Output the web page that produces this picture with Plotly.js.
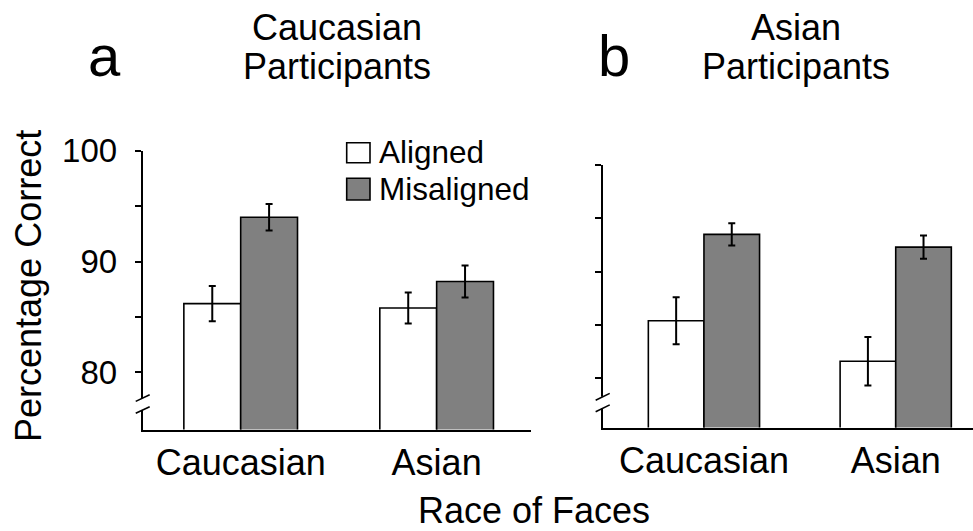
<!DOCTYPE html>
<html>
<head>
<meta charset="utf-8">
<script src="https://cdn.plot.ly/plotly-3.0.1.min.js"></script>
<style>html,body{margin:0;padding:0;background:#fff;}#chart{width:973px;height:531px;}</style>
</head>
<body>
<div id="chart"></div>
<script>
// ---- data ----
const categories = ['Caucasian', 'Asian'];
const seriesNames = ['Aligned', 'Misaligned'];
// Panel a: Caucasian participants
const caucAligned = [86.2, 85.8];
const caucAlignedErr = [1.6, 1.4];
const caucMisaligned = [94.0, 88.2];
const caucMisalignedErr = [1.2, 1.45];
// Panel b: Asian participants
const asianAligned = [85.4, 81.6];
const asianAlignedErr = [2.2, 2.27];
const asianMisaligned = [93.5, 92.3];
const asianMisalignedErr = [1.05, 1.1];
// ticks
const yTickVals = [80, 85, 90, 95, 100];
const yTickTextA = ['80', '', '90', '', '100'];
const yTickTextB = ['', '', '', '', ''];
const panelLetters = ['a', 'b'];
const panelTitlesLine1 = ['Caucasian', 'Asian'];
const panelTitlesLine2 = ['Participants', 'Participants'];
const yTitle = 'Percentage Correct';
const xTitle = 'Race of Faces';

// ---- styles ----
const FONT = 'Liberation Sans, Arial, Helvetica, sans-serif';
const fills = ['#ffffff', '#808080'];
const W = 973, H = 531;
const px = v => v / W;
const py = v => 1 - v / H;

function barTrace(name, y, err, fill, xa, ya) {
  return {
    type: 'bar', name: name, x: categories, y: y,
    xaxis: xa, yaxis: ya, showlegend: false,
    marker: { color: fill, line: { color: '#000', width: 1.6 } },
    error_y: { type: 'data', array: err, visible: true, color: '#000', thickness: 2, width: 3.5 },
    hoverinfo: 'skip'
  };
}

const data = [
  barTrace(seriesNames[0], caucAligned, caucAlignedErr, fills[0], 'x', 'y'),
  barTrace(seriesNames[1], caucMisaligned, caucMisalignedErr, fills[1], 'x', 'y'),
  barTrace(seriesNames[0], asianAligned, asianAlignedErr, fills[0], 'x2', 'y2'),
  barTrace(seriesNames[1], asianMisaligned, asianMisalignedErr, fills[1], 'x2', 'y2')
];

const xCommon = {
  type: 'category', showline: true, linecolor: '#000', linewidth: 2,
  ticks: '', showgrid: false, zeroline: false, fixedrange: true,
  tickfont: { family: FONT, size: 36, color: '#000' }
};
const yCommon = {
  showline: true, linecolor: '#000', linewidth: 2, showgrid: false, zeroline: false,
  ticks: 'outside', ticklen: 6, tickwidth: 2, tickcolor: '#000',
  tickmode: 'array', tickvals: yTickVals, fixedrange: true,
  tickfont: { family: FONT, size: 33, color: '#000' }, ticklabelstandoff: 11
};

// axis break marks (decorative)
function breakShapes(xref, yref, yUp, yLo, dx, dy, dGap) {
  const s = [];
  s.push({ type: 'rect', xref: xref, yref: yref, x0: -dGap, x1: dGap, y0: yLo, y1: yUp,
           fillcolor: '#fff', line: { width: 0 }, layer: 'above' });
  [yUp, yLo].forEach(yc => s.push({ type: 'line', xref: xref, yref: yref,
    x0: -dx, x1: dx, y0: yc - dy, y1: yc + dy, line: { color: '#000', width: 1.6 }, layer: 'above' }));
  return s;
}

const shapes = [].concat(
  breakShapes('x domain', 'y', 77.68, 76.6, 0.018, 0.3, 0.008),
  breakShapes('x2 domain', 'y2', 78.27, 77.19, 0.019, 0.32, 0.008),
  // manual legend squares
  [{ type: 'rect', xref: 'paper', yref: 'paper', x0: px(346.7), x1: px(370), y0: py(162.7), y1: py(142.7),
     fillcolor: fills[0], line: { color: '#000', width: 1.6 } },
   { type: 'rect', xref: 'paper', yref: 'paper', x0: px(346.7), x1: px(370), y0: py(200), y1: py(178.3),
     fillcolor: fills[1], line: { color: '#000', width: 1.6 } }]
);

function ann(text, x, y, size, extra) {
  return Object.assign({ text: text, x: x, y: y, xref: 'paper', yref: 'paper', showarrow: false,
    xanchor: 'center', yanchor: 'middle', font: { family: FONT, size: size, color: '#000' } }, extra || {});
}

const annotations = [
  ann(panelLetters[0], px(104), py(56), 58),
  ann(panelLetters[1], px(614), py(56), 58),
  ann(panelTitlesLine1[0], px(337), py(27.5), 36),
  ann(panelTitlesLine2[0], px(337), py(66.5), 36),
  ann(panelTitlesLine1[1], px(796), py(27.5), 36),
  ann(panelTitlesLine2[1], px(796), py(66.5), 36),
  ann(yTitle, px(28), py(286), 36, { textangle: -90 }),
  ann(xTitle, px(534), py(510), 36),
  ann(seriesNames[0], px(376.7), py(151.7), 31.5, { xanchor: 'left' }),
  ann(seriesNames[1], px(376.7), py(189), 31.5, { xanchor: 'left' })
];

const layout = {
  width: W, height: H,
  margin: { l: 0, r: 0, t: 0, b: 0, pad: 0 },
  paper_bgcolor: '#fff', plot_bgcolor: '#fff',
  barmode: 'group', bargap: 0.42, bargroupgap: 0,
  showlegend: false,
  font: { family: FONT, color: '#000' },
  xaxis: Object.assign({}, xCommon, { domain: [px(142.7), px(530.7)], range: [-0.5, 1.48], anchor: 'y' }),
  yaxis: Object.assign({}, yCommon, { domain: [py(429.5), py(150.7)], range: [74.84, 100], ticktext: yTickTextA, anchor: 'x' }),
  xaxis2: Object.assign({}, xCommon, { domain: [px(602.7), 1], range: [-0.528, 1.403], anchor: 'y2' }),
  yaxis2: Object.assign({}, yCommon, { domain: [py(427.5), py(165)], range: [75.39, 100], ticktext: yTickTextB, anchor: 'x2' }),
  shapes: shapes,
  annotations: annotations
};

Plotly.newPlot('chart', data, layout, { staticPlot: true, displayModeBar: false });
</script>
</body>
</html>
